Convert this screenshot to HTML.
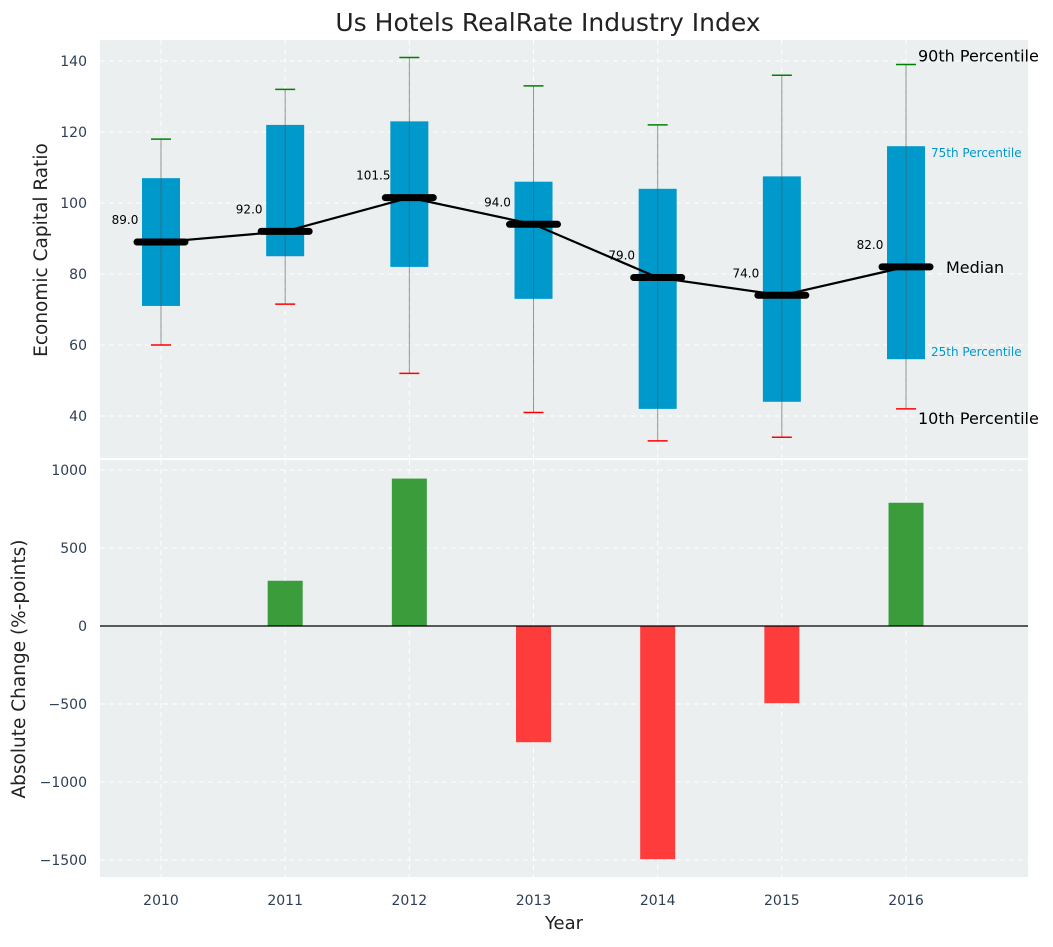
<!DOCTYPE html>
<html><head><meta charset="utf-8"><style>
body{margin:0;background:#fff;font-family:"Liberation Sans","DejaVu Sans",sans-serif;}
svg text{font-family:"DejaVu Sans","Liberation Sans",sans-serif;}
</style></head><body>
<svg id="chart" width="1053" height="942" xmlns="http://www.w3.org/2000/svg"></svg>
<script>
const years=["2010","2011","2012","2013","2014","2015","2016"];
const p10=[60,71.5,52,41,33,34,42];
const q1=[71,85,82,73,42,44,56];
const medians=[89,92,101.5,94,79,74,82];
const q3=[107,122,123,106,104,107.5,116];
const p90=[118,132,141,133,122,136,139];
const changes=[0,290,945,-745,-1495,-495,790];
const topTicks=[40,60,80,100,120,140];
const botTicks=[-1500,-1000,-500,0,500,1000];
const tickLabels=["\u22121500","\u22121000","\u2212500","0","500","1000"];

const svg=document.getElementById('chart');
const NS="http://www.w3.org/2000/svg";
function mk(tag,attrs,parent,name,txt){const e=document.createElementNS(NS,tag);for(const k in attrs)e.setAttribute(k,attrs[k]);


if(txt!==undefined)e.textContent=txt;(parent||svg).appendChild(e);return e;}
const L=100,R=1028;
const x=i=>161+i*124.17;
const yT=v=>416-(v-40)*3.55;
const yB=v=>626-v*0.156;
mk('rect',{x:L,y:40,width:R-L,height:418,fill:'#ebefef'},null,'top-panel');
mk('rect',{x:L,y:460,width:R-L,height:417,fill:'#ebefef'},null,'bottom-panel');
const grid={stroke:'#fff','stroke-dasharray':'5,4','stroke-width':1};
years.forEach((y,i)=>{
  mk('line',Object.assign({x1:x(i),x2:x(i),y1:40,y2:458},grid),null,'top-grid-x');
  mk('line',Object.assign({x1:x(i),x2:x(i),y1:460,y2:877},grid),null,'bottom-grid-x');
  mk('text',{x:x(i),y:905,'text-anchor':'middle','font-size':14,fill:'#2e3f55'},null,'x-tick-label',y);
});
topTicks.forEach(t=>{
  mk('line',Object.assign({x1:L,x2:R,y1:yT(t),y2:yT(t)},grid),null,'top-grid-y');
  mk('text',{x:87,y:yT(t)+5,'text-anchor':'end','font-size':14,fill:'#2e3f55'},null,'top-y-tick-label',t);
});
botTicks.forEach((t,k)=>{
  mk('line',Object.assign({x1:L,x2:R,y1:yB(t),y2:yB(t)},grid),null,'bottom-grid-y');
  mk('text',{x:87,y:yB(t)+5,'text-anchor':'end','font-size':14,fill:'#2e3f55'},null,'bottom-y-tick-label',tickLabels[k]);
});
years.forEach((y,i)=>{
  const cx=x(i);
  mk('rect',{x:cx-19,y:yT(q3[i]),width:38,height:yT(q1[i])-yT(q3[i]),fill:'#0099cc'},null,'iqr-box');
  mk('line',{x1:cx,x2:cx,y1:yT(p90[i]),y2:yT(p10[i]),stroke:'#555','stroke-opacity':0.6,'stroke-width':1},null,'whisker');
  mk('line',{x1:cx-10,x2:cx+10,y1:yT(p90[i]),y2:yT(p90[i]),stroke:'green','stroke-width':1.5},null,'p90-cap');
  mk('line',{x1:cx-10,x2:cx+10,y1:yT(p10[i]),y2:yT(p10[i]),stroke:'red','stroke-width':1.5},null,'p10-cap');
});
mk('polyline',{points:medians.map((m,i)=>x(i)+','+yT(m)).join(' '),fill:'none',stroke:'#000','stroke-width':2.2},null,'median-line');
medians.forEach((m,i)=>{
  mk('line',{x1:x(i)-24,x2:x(i)+24,y1:yT(m),y2:yT(m),stroke:'#000','stroke-width':7,'stroke-linecap':'round'},null,'median-marker');
  mk('text',{x:x(i)-36,y:yT(m)-18,'text-anchor':'middle','font-size':12,fill:'#000'},null,'median-value',m.toFixed(1));
});
const last=6;
mk('text',{x:918,y:yT(p90[last])-3,'font-size':16,fill:'#000'},null,'p90-label','90th Percentile');
mk('text',{x:918,y:yT(p10[last])+15,'font-size':16,fill:'#000'},null,'p10-label','10th Percentile');
mk('text',{x:931,y:yT(q3[last])+11,'font-size':12,fill:'#0099cc'},null,'q3-label','75th Percentile');
mk('text',{x:931,y:yT(q1[last])-3,'font-size':12,fill:'#0099cc'},null,'q1-label','25th Percentile');
mk('text',{x:946,y:yT(medians[last])+6,'font-size':16,fill:'#000'},null,'median-label','Median');
changes.forEach((c,i)=>{
  const y0=yB(Math.max(c,0)),y1=yB(Math.min(c,0));
  mk('rect',{x:x(i)-17.5,y:y0,width:35,height:y1-y0,fill:c>=0?'#3a9c3a':'#ff3c3c'},null,'change-bar');
});
mk('line',{x1:L,x2:R,y1:yB(0),y2:yB(0),stroke:'#000','stroke-width':1.2},null,'zero-line');
mk('text',{x:548,y:31,'text-anchor':'middle','font-size':25,fill:'#222'},null,'chart-title','Us Hotels RealRate Industry Index');
mk('text',{x:564,y:929,'text-anchor':'middle','font-size':18,fill:'#222'},null,'x-axis-title','Year');
mk('text',{x:0,y:0,'text-anchor':'middle','font-size':18.5,fill:'#222',transform:'translate(47,250) rotate(-90)'},null,'top-y-axis-title','Economic Capital Ratio');
mk('text',{x:0,y:0,'text-anchor':'middle','font-size':18.5,fill:'#222',transform:'translate(25,669) rotate(-90)'},null,'bottom-y-axis-title','Absolute Change (%-points)');
</script>
</body></html>
